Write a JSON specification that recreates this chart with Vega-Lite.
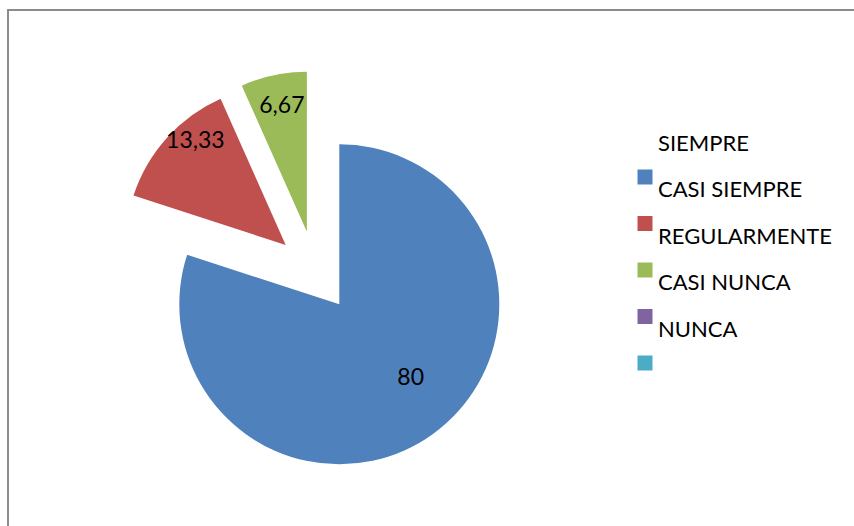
{
  "$schema": "https://vega.github.io/schema/vega-lite/v6.json",
  "width": 900,
  "height": 580,
  "autosize": {"type": "none"},
  "padding": {"left": 8, "top": 10, "right": -54, "bottom": -64},
  "background": "white",
  "view": {"stroke": "#8c8c8c", "strokeWidth": 2, "fill": "white"},
  "config": {
    "view": {"stroke": "#8c8c8c", "strokeWidth": 2},
    "font": "Lato",
    "locale": {"number": {"decimal": ",", "thousands": ".", "grouping": [3], "currency": ["", " €"]}},
    "legend": {
      "orient": "none",
      "legendX": 626,
      "legendY": 156,
      "padding": 0,
      "symbolType": "square",
      "symbolSize": 225,
      "symbolStrokeWidth": 0,
      "labelFont": "Lato",
      "labelFontSize": 22,
      "labelColor": "#000000",
      "labelOffset": 2,
      "rowPadding": -6.5,
      "labelLimit": 300
    }
  },
  "data": {
    "values": [
      {"categoria": "SIEMPRE", "porcentaje": 80},
      {"categoria": "CASI SIEMPRE", "porcentaje": 13.33},
      {"categoria": "REGULARMENTE", "porcentaje": 6.67},
      {"categoria": "CASI NUNCA", "porcentaje": 0},
      {"categoria": "NUNCA", "porcentaje": 0}
    ]
  },
  "layer": [
    {
      "mark": {"type": "arc", "outerRadius": 160, "xOffset": -118.7, "yOffset": 4.3},
      "encoding": {
        "theta": {"field": "porcentaje", "type": "quantitative", "stack": true},
        "order": {"field": "porcentaje", "sort": "descending"},
        "color": {
          "field": "categoria",
          "type": "nominal",
          "scale": {
            "domain": ["SIEMPRE", "CASI SIEMPRE", "REGULARMENTE", "CASI NUNCA", "NUNCA"],
            "range": ["#4F81BD", "#C0504D", "#9BBB59", "#8064A2", "#4BACC6"]
          },
          "legend": {
            "title": null,
            "encoding": {"labels": {"dy": {"value": -33.5}}}
          }
        },
        "opacity": {"condition": {"test": "datum.categoria === 'SIEMPRE'", "value": 1}, "value": 0}
      }
    },
    {
      "mark": {"type": "arc", "outerRadius": 160, "xOffset": -172.3, "yOffset": -55},
      "encoding": {
        "theta": {"field": "porcentaje", "type": "quantitative", "stack": true},
        "order": {"field": "porcentaje", "sort": "descending"},
        "color": {
          "field": "categoria",
          "type": "nominal",
          "scale": {
            "domain": ["SIEMPRE", "CASI SIEMPRE", "REGULARMENTE", "CASI NUNCA", "NUNCA"],
            "range": ["#4F81BD", "#C0504D", "#9BBB59", "#8064A2", "#4BACC6"]
          },
          "legend": {
            "title": null,
            "encoding": {"labels": {"dy": {"value": -33.5}}}
          }
        },
        "opacity": {"condition": {"test": "datum.categoria === 'CASI SIEMPRE'", "value": 1}, "value": 0}
      }
    },
    {
      "mark": {"type": "arc", "outerRadius": 160, "xOffset": -151.1, "yOffset": -68.2},
      "encoding": {
        "theta": {"field": "porcentaje", "type": "quantitative", "stack": true},
        "order": {"field": "porcentaje", "sort": "descending"},
        "color": {
          "field": "categoria",
          "type": "nominal",
          "scale": {
            "domain": ["SIEMPRE", "CASI SIEMPRE", "REGULARMENTE", "CASI NUNCA", "NUNCA"],
            "range": ["#4F81BD", "#C0504D", "#9BBB59", "#8064A2", "#4BACC6"]
          },
          "legend": {
            "title": null,
            "encoding": {"labels": {"dy": {"value": -33.5}}}
          }
        },
        "opacity": {"condition": {"test": "datum.categoria === 'REGULARMENTE'", "value": 1}, "value": 0}
      }
    },
    {
      "mark": {"type": "text", "radius": 101, "xOffset": -118.7, "yOffset": 4.3, "dx": 12, "dy": -8, "fontSize": 23, "font": "Lato", "color": "#000000"},
      "encoding": {
        "theta": {"field": "porcentaje", "type": "quantitative", "stack": true},
        "order": {"field": "porcentaje", "sort": "descending"},
        "text": {"field": "porcentaje", "type": "quantitative", "format": "~r"},
        "opacity": {"condition": {"test": "datum.categoria === 'SIEMPRE'", "value": 1}, "value": 0}
      }
    },
    {
      "mark": {"type": "text", "radius": 139, "xOffset": -172.3, "yOffset": -55, "dx": 13, "dy": -11, "fontSize": 23, "font": "Lato", "color": "#000000"},
      "encoding": {
        "theta": {"field": "porcentaje", "type": "quantitative", "stack": true},
        "order": {"field": "porcentaje", "sort": "descending"},
        "text": {"field": "porcentaje", "type": "quantitative", "format": "~r"},
        "opacity": {"condition": {"test": "datum.categoria === 'CASI SIEMPRE'", "value": 1}, "value": 0}
      }
    },
    {
      "mark": {"type": "text", "radius": 130, "xOffset": -151.1, "yOffset": -68.2, "dx": 2, "dy": 1, "fontSize": 23, "font": "Lato", "color": "#000000"},
      "encoding": {
        "theta": {"field": "porcentaje", "type": "quantitative", "stack": true},
        "order": {"field": "porcentaje", "sort": "descending"},
        "text": {"field": "porcentaje", "type": "quantitative", "format": "~r"},
        "opacity": {"condition": {"test": "datum.categoria === 'REGULARMENTE'", "value": 1}, "value": 0}
      }
    }
  ]
}
